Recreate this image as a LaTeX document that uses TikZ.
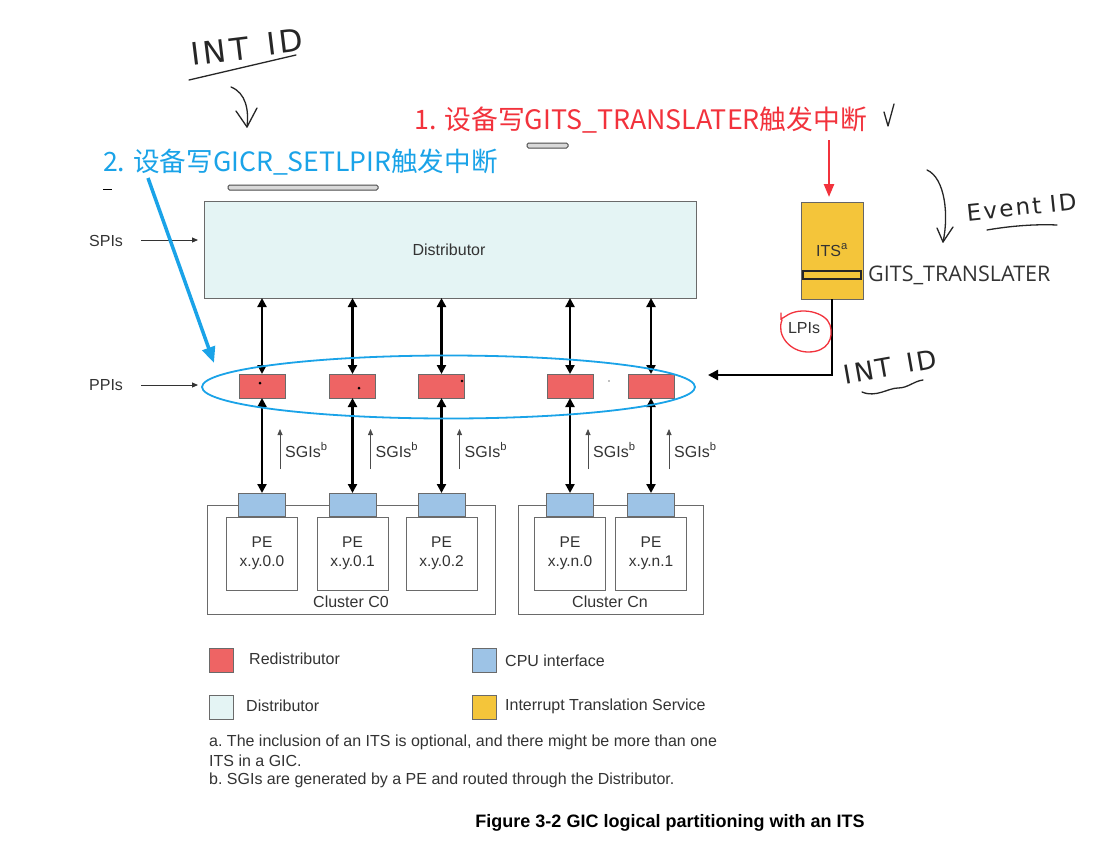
\documentclass[tikz,border=0pt]{standalone}
\usepackage{fontspec}
\setmainfont{Liberation Sans}
\newfontfamily\cjk{Noto Sans CJK SC}
\newfontfamily\ui{Open Sans}
\newfontfamily\hand[LetterSpace=10]{DejaVu Sans}
\usetikzlibrary{arrows.meta,calc,shapes.geometric}
\definecolor{distfill}{HTML}{E4F4F4}
\definecolor{redfill}{HTML}{EE6464}
\definecolor{cpufill}{HTML}{9DC3E6}
\definecolor{itsfill}{HTML}{F4C53A}
\definecolor{annblue}{HTML}{1AA3E8}
\definecolor{annred}{HTML}{F2323C}
\definecolor{txt}{HTML}{333333}
\definecolor{edge}{HTML}{6A6A6A}
\tikzset{
  box/.style={draw=edge, line width=0.9pt, inner sep=0pt, outer sep=0pt},
  lbl/.style={text=txt, font=\fontsize{16}{19}\selectfont, inner sep=0pt},
  redi/.style={box, fill=redfill, minimum width=46, minimum height=24},
  cpui/.style={box, fill=cpufill, minimum width=47, minimum height=23},
  pe/.style={box, fill=white, minimum width=71, minimum height=73, align=center, text=txt, font=\fontsize{15.5}{19}\selectfont},
  dbl/.style={{Triangle[length=9pt,width=9pt]}-{Triangle[length=9pt,width=9pt]}, line width=2.2pt, black},
  thinarr/.style={-{Triangle[length=6pt,width=5pt]}, line width=0.9pt, black!80},
  hw/.style={line width=1.3pt, black!85, line cap=round, line join=round},
  hwtext/.style={font=\hand\fontsize{#1}{#1}\selectfont, text=black!85, inner sep=0pt},
  legsq/.style={box, minimum width=24, minimum height=24},
  hlbar/.style={rounded corners=1.5pt, fill=gray!30, draw=gray!60!black, line width=1pt}
}
\begin{document}
\begin{tikzpicture}[x=1pt,y=-1pt]
\useasboundingbox[fill=white] (0,0) rectangle (1094,849);

% Distributor
\node[box, fill=distfill, minimum width=492, minimum height=97, anchor=north west] (dist) at (204,201) {};
\node[lbl] (distlbl) at (449,250) {Distributor};

% SPIs / PPIs
\node[lbl, anchor=west] (spi) at (89,241) {SPIs};
\node[lbl, anchor=west] (ppi) at (89,385) {PPIs};
\coordinate (spiend) at (198,240);
\coordinate (ppiend) at (198,385);
\draw[thinarr] (141,240) -- (spiend);
\draw[thinarr] (141,385) -- (ppiend);

% clusters
\draw[box, fill=white] (207,505) rectangle (495,614);
\draw[box, fill=white] (518,505) rectangle (703,614);
\node[lbl] (cl0) at (351,602) {Cluster C0};
\node[lbl] (cln) at (610,602) {Cluster Cn};

% columns
\foreach \i/\x/\pe in {1/262/x.y.0.0, 2/352.5/x.y.0.1, 3/441.5/x.y.0.2, 4/570/x.y.n.0, 5/651/x.y.n.1}{
  \node[redi] (r\i) at (\x,386) {};
  \node[cpui] (c\i) at (\x,504.5) {};
  \node[pe] (p\i) at (\x,553.5) {PE\\\pe};
  \draw[dbl] (dist.south -| r\i) -- (r\i.north);
  \draw[dbl] (r\i.south) -- (c\i.north);
  \coordinate (sa\i) at ($(\x,469)+(18,0)$);
  \coordinate (sb\i) at ($(\x,429)+(18,0)$);
  \draw[thinarr, black!70, line width=0.8pt] (sa\i) -- (sb\i);
  \node[lbl, anchor=west] (sg\i) at ($(\x,450)+(23,0)$) {SGIs\textsuperscript{b}};
}
% dots inside redistributors
\fill[black] (260,383) circle (1.5);
\fill[black] (359,388) circle (1.5);
\fill[black] (462,381) circle (1.3);
\fill[gray] (609,381) circle (0.8);

% blue ellipse
\node[ellipse, draw=annblue, line width=1.8pt, minimum width=493, minimum height=63, inner sep=0pt] (ell) at (448.5,387) {};

% ITS
\node[box, fill=itsfill, draw=black!60, minimum width=62, minimum height=97] (its) at (832,250.5) {};
\node[box, fill=itsfill, draw=black!85, line width=1.3pt, minimum width=58, minimum height=8] (itsbar) at (832,275) {};
\node[lbl, text=black!80] (itslbl) at (832,250) {ITS\textsuperscript{a}};
\node[anchor=west, inner sep=0pt, text=black!80, font=\ui\fontsize{21.5}{24}\selectfont] (gtr) at (868,275) {GITS\_TRANSLATER};

% LPI connector
\coordinate (lpiend) at (708,375);
\draw[line width=2.2pt, black, -{Triangle[length=10pt,width=10pt]}] (its.south) -- (its.south |- lpiend) -- (lpiend);
\node[lbl] (lpi) at (804,328) {LPIs};
\draw[annred, line width=1.3pt, line cap=round] (782,320) .. controls (776,335) and (790,352) .. (808,352) .. controls (828,352) and (834,338) .. (830,325) .. controls (826,312) and (800,306) .. (786,316) -- (781,319) -- (781,313);

% annotation texts
\node[anchor=west, inner sep=0pt, text=annred, font=\cjk\fontsize{26.8}{30}\selectfont] (t1) at (414,120) {1. 设备写GITS\_TRANSLATER触发中断};
\node[anchor=west, inner sep=0pt, text=annblue, font=\cjk\fontsize{26.6}{30}\selectfont] (t2) at (103,162) {2. 设备写GICR\_SETLPIR触发中断};

% red arrow to ITS
\coordinate (rstart) at (829,140);
\draw[annred, line width=2.4pt, -{Triangle[length=13pt,width=10pt]}] (rstart) -- ([yshift=5pt]its.north -| rstart);

% blue arrow to ellipse
\coordinate (bstart) at (148,178);
\coordinate (bend) at (214,363);
\draw[annblue, line width=3.5pt, -{Triangle[length=16pt,width=13pt]}] (bstart) -- (bend);

% highlight bars
\draw[hlbar] (228,185) rectangle (378,190);
\draw[hlbar] (527,143) rectangle (568,148);
\draw[line width=1pt, black] (103,189) -- (112,189);

% handwriting
\node[hwtext=31, rotate=7] (hw1a) at (220,51) {INT};
\node[hwtext=31, rotate=7] (hw1b) at (285,42) {ID};
\draw[hw] (189,80) -- (296,55);
\draw[hw] (231,87) .. controls (246,93) and (249,110) .. (247,127);
\draw[hw] (236,111) -- (247,127) -- (257,108);
\draw[hw] (884,112) -- (888,126) -- (894,104);

\node[hwtext=23, rotate=6] (hw2a) at (1004,209) {Event};
\node[hwtext=23, rotate=6] (hw2b) at (1063,203) {ID};
\draw[hw] (987,230) .. controls (1010,226) and (1035,224) .. (1057,225);
\draw[hw] (927,170) .. controls (945,178) and (949,215) .. (943,242);
\draw[hw] (937,228) -- (943,242) -- (953,227);

\node[hwtext=26, rotate=10] (hw3a) at (868,371) {INT};
\node[hwtext=26, rotate=10] (hw3b) at (922,361) {ID};
\draw[hw] (862,392) .. controls (876,398) and (888,388) .. (898,388) .. controls (908,388) and (914,381) .. (923,380);

% legend
\node[legsq, fill=redfill, anchor=north west] (lg1) at (209,648) {};
\node[lbl, anchor=west] (lt1) at (249,659) {Redistributor};
\node[legsq, fill=distfill, anchor=north west] (lg2) at (209,695) {};
\node[lbl, anchor=west] (lt2) at (246,706) {Distributor};
\node[legsq, fill=cpufill, anchor=north west] (lg3) at (472,648) {};
\node[lbl, anchor=west] (lt3) at (505,661) {CPU interface};
\node[legsq, fill=itsfill, anchor=north west] (lg4) at (472,695) {};
\node[lbl, anchor=west] (lt4) at (505,706) {Interrupt Translation Service};

% footnotes
\node[lbl, anchor=west] (fa) at (209,742) {a.\ The inclusion of an ITS is optional, and there might be more than one};
\node[lbl, anchor=west] (fa2) at (209,761) {ITS in a GIC.};
\node[lbl, anchor=west] (fb) at (209,780) {b.\ SGIs are generated by a PE and routed through the Distributor.};

% caption
\node[inner sep=0pt, text=black, font=\bfseries\fontsize{18}{20}\selectfont] (cap) at (670,823) {Figure 3-2 GIC logical partitioning with an ITS};
\end{tikzpicture}
\end{document}
